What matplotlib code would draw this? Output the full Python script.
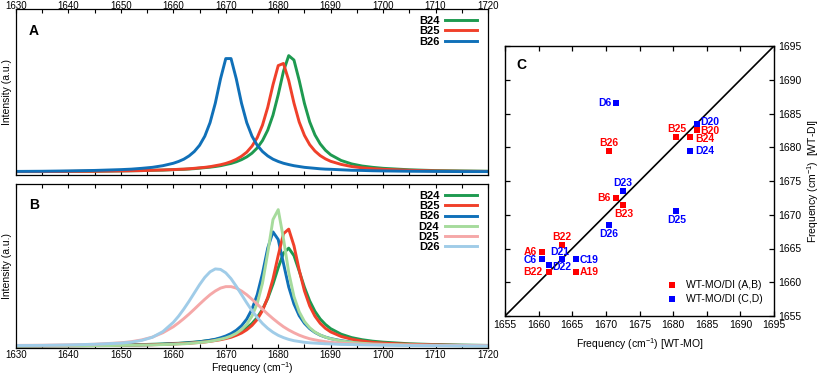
import matplotlib
matplotlib.use("Agg")
import matplotlib.pyplot as plt
from matplotlib.ticker import MultipleLocator

plt.rcParams['font.family'] = ['Liberation Sans', 'DejaVu Sans']
plt.rcParams['mathtext.default'] = 'regular'

# Spectra (intensity, a.u.)
freq = [1630, 1635, 1640, 1645, 1650, 1652, 1654, 1656, 1658,
        1660, 1661, 1662, 1663, 1664, 1665, 1666, 1667, 1668, 1669,
        1670, 1671, 1672, 1673, 1674, 1675, 1676, 1677, 1678, 1679,
        1680, 1681, 1682, 1683, 1684, 1685, 1686, 1687, 1688, 1689,
        1690, 1692, 1694, 1696, 1698, 1700, 1705, 1710, 1715, 1720]

# panel A
a_b24 = [0.003, 0.003, 0.004, 0.005, 0.007, 0.008, 0.009, 0.011, 0.012,
         0.015, 0.016, 0.017, 0.019, 0.021, 0.024, 0.027, 0.030, 0.034, 0.039,
         0.046, 0.053, 0.063, 0.076, 0.093, 0.116, 0.148, 0.193, 0.257, 0.349,
         0.475, 0.618, 0.714, 0.687, 0.562, 0.421, 0.308, 0.228, 0.173, 0.134,
         0.106, 0.071, 0.050, 0.037, 0.029, 0.023, 0.014, 0.009, 0.007, 0.005]
a_b25 = [0.003, 0.003, 0.004, 0.005, 0.007, 0.008, 0.009, 0.011, 0.013,
         0.015, 0.017, 0.018, 0.020, 0.023, 0.026, 0.029, 0.033, 0.039, 0.045,
         0.053, 0.064, 0.078, 0.097, 0.122, 0.159, 0.211, 0.288, 0.397, 0.535,
         0.653, 0.666, 0.562, 0.423, 0.307, 0.225, 0.168, 0.129, 0.101, 0.081,
         0.066, 0.047, 0.034, 0.026, 0.021, 0.017, 0.011, 0.007, 0.005, 0.004]
a_b26 = [0.004, 0.005, 0.007, 0.010, 0.015, 0.018, 0.023, 0.029, 0.039,
         0.054, 0.065, 0.079, 0.099, 0.126, 0.164, 0.220, 0.303, 0.422, 0.572,
         0.696, 0.696, 0.572, 0.422, 0.303, 0.220, 0.164, 0.126, 0.099, 0.079,
         0.065, 0.054, 0.046, 0.039, 0.034, 0.029, 0.026, 0.023, 0.020, 0.018,
         0.017, 0.014, 0.011, 0.010, 0.008, 0.007, 0.005, 0.004, 0.003, 0.003]

# panel B
b_b24 = [0.003, 0.004, 0.005, 0.006, 0.008, 0.010, 0.011, 0.013, 0.015,
         0.018, 0.019, 0.021, 0.024, 0.026, 0.029, 0.033, 0.037, 0.042, 0.048,
         0.056, 0.066, 0.078, 0.093, 0.114, 0.141, 0.178, 0.228, 0.295, 0.383,
         0.485, 0.574, 0.605, 0.559, 0.464, 0.364, 0.280, 0.216, 0.169, 0.135,
         0.109, 0.075, 0.054, 0.041, 0.032, 0.026, 0.016, 0.011, 0.008, 0.006]
b_b25 = [0.003, 0.003, 0.004, 0.005, 0.007, 0.008, 0.009, 0.010, 0.012,
         0.015, 0.016, 0.018, 0.019, 0.022, 0.024, 0.027, 0.031, 0.036, 0.041,
         0.048, 0.056, 0.068, 0.082, 0.102, 0.129, 0.166, 0.221, 0.301, 0.415,
         0.560, 0.694, 0.722, 0.620, 0.470, 0.342, 0.249, 0.186, 0.142, 0.111,
         0.089, 0.061, 0.044, 0.033, 0.025, 0.020, 0.013, 0.009, 0.006, 0.005]
b_b26 = [0.002, 0.003, 0.004, 0.005, 0.007, 0.008, 0.009, 0.011, 0.013,
         0.016, 0.018, 0.020, 0.022, 0.025, 0.028, 0.033, 0.038, 0.044, 0.053,
         0.064, 0.079, 0.099, 0.127, 0.168, 0.229, 0.319, 0.449, 0.605, 0.705,
         0.658, 0.511, 0.366, 0.261, 0.189, 0.142, 0.109, 0.086, 0.069, 0.057,
         0.048, 0.035, 0.026, 0.020, 0.016, 0.013, 0.009, 0.006, 0.005, 0.004]
b_d24 = [0.002, 0.003, 0.003, 0.004, 0.006, 0.007, 0.008, 0.009, 0.011,
         0.013, 0.015, 0.016, 0.018, 0.021, 0.024, 0.027, 0.031, 0.037, 0.044,
         0.052, 0.064, 0.080, 0.103, 0.136, 0.186, 0.264, 0.389, 0.576, 0.781,
         0.842, 0.663, 0.456, 0.307, 0.213, 0.153, 0.115, 0.088, 0.070, 0.057,
         0.047, 0.033, 0.025, 0.019, 0.015, 0.013, 0.008, 0.006, 0.004, 0.003]
b_d25 = [0.006, 0.007, 0.009, 0.013, 0.022, 0.029, 0.040, 0.057, 0.084,
         0.121, 0.145, 0.171, 0.199, 0.229, 0.260, 0.290, 0.318, 0.341, 0.359,
         0.368, 0.368, 0.359, 0.341, 0.318, 0.290, 0.260, 0.229, 0.199, 0.171,
         0.145, 0.121, 0.101, 0.084, 0.069, 0.057, 0.047, 0.040, 0.034, 0.029,
         0.025, 0.019, 0.016, 0.013, 0.012, 0.010, 0.008, 0.006, 0.005, 0.004]
b_d26 = [0.005, 0.006, 0.009, 0.013, 0.020, 0.026, 0.037, 0.056, 0.091,
         0.148, 0.186, 0.230, 0.278, 0.329, 0.380, 0.425, 0.459, 0.477, 0.474,
         0.453, 0.417, 0.370, 0.319, 0.268, 0.220, 0.178, 0.141, 0.111, 0.087,
         0.068, 0.054, 0.043, 0.035, 0.030, 0.025, 0.022, 0.020, 0.018, 0.016,
         0.015, 0.012, 0.011, 0.009, 0.008, 0.007, 0.005, 0.004, 0.003, 0.003]

# panel C: WT-MO vs WT-DI frequencies
labels_ab = ['B26', 'B25', 'B20', 'B24', 'B6', 'B23', 'B22', 'A6', 'B22', 'A19']
mo_ab = [1670.5, 1680.5, 1683.5, 1682.5, 1671.5, 1672.5, 1663.5, 1660.5, 1661.5, 1665.5]
di_ab = [1679.5, 1681.5, 1682.5, 1681.5, 1672.5, 1671.5, 1665.5, 1664.5, 1661.5, 1661.5]
labels_cd = ['D6', 'D20', 'D24', 'D23', 'D26', 'D25', 'D21', 'C6', 'D22', 'C19']
mo_cd = [1671.5, 1683.5, 1682.5, 1672.5, 1670.5, 1680.5, 1663.5, 1660.5, 1661.5, 1665.5]
di_cd = [1686.5, 1683.5, 1679.5, 1673.5, 1668.5, 1670.5, 1663.5, 1663.5, 1662.5, 1663.5]

# label placement (pixel offsets, alignment)
off_ab = [(0, 8, 'center'), (0, 8, 'center'), (4, -1, 'left'), (5, -2, 'left'),
          (-5, 0, 'right'), (1, -9, 'center'), (0, 8, 'center'), (-5, 0, 'right'),
          (-6, 0, 'right'), (4, 0, 'left')]
off_cd = [(-4, 0, 'right'), (4, 2, 'left'), (5, 0, 'left'), (0, 8, 'center'),
          (0, -9, 'center'), (0, -9, 'center'), (-2, 7, 'center'), (-5, -1, 'right'),
          (4, -2, 'left'), (4, -1, 'left')]

c_green = '#1e9a50'
c_red = '#f0402a'
c_blue = '#1070b8'
c_lgreen = '#a6db9c'
c_pink = '#f5a8a8'
c_lblue = '#a0cce8'

fig = plt.figure(figsize=(8.22, 3.75), dpi=100)
W, H = 822, 375


def box(x0, y0, x1, y1):
    return [x0 / W, 1 - y1 / H, (x1 - x0) / W, (y1 - y0) / H]


axA = fig.add_axes(box(16, 9, 488, 175))
axB = fig.add_axes(box(16, 184, 488, 348))
axC = fig.add_axes(box(505, 46, 774, 316))

lw = 2.1
axA.plot(freq, a_b24, color=c_green, lw=lw, label='B24')
axA.plot(freq, a_b25, color=c_red, lw=lw, label='B25')
axA.plot(freq, a_b26, color=c_blue, lw=lw, label='B26')

axB.plot(freq, b_b24, color=c_green, lw=lw, label='B24')
axB.plot(freq, b_b26, color=c_blue, lw=lw, label='B26')
axB.plot(freq, b_b25, color=c_red, lw=lw, label='B25')
axB.plot(freq, b_d24, color=c_lgreen, lw=lw, label='D24')
axB.plot(freq, b_d25, color=c_pink, lw=lw, label='D25')
axB.plot(freq, b_d26, color=c_lblue, lw=lw, label='D26')

for ax, letter, ylo in [(axA, 'A', -0.018), (axB, 'B', -0.01)]:
    ax.set_xlim(1630, 1720)
    ax.set_ylim(ylo, 1.0)
    ax.set_yticks([])
    ax.xaxis.set_major_locator(MultipleLocator(10))
    ax.xaxis.set_minor_locator(MultipleLocator(5))
    ax.tick_params(axis='x', which='both', direction='in', top=True, bottom=True,
                   length=3, width=0.8, labelsize=7, pad=1.5)
    ax.set_ylabel('Intensity (a.u.)', fontsize=7.5)
    ax.yaxis.set_label_coords(-0.0095, 0.5)
    ax.text(0.038, 0.87, letter, transform=ax.transAxes, fontsize=10,
            fontweight='bold', ha='center', va='center')
    for s in ax.spines.values():
        s.set_linewidth(0.9)
    handles, labs = ax.get_legend_handles_labels()
    order = sorted(range(len(labs)), key=lambda i: labs[i])
    leg = ax.legend([handles[i] for i in order], [labs[i] for i in order],
                    loc='upper right', bbox_to_anchor=(0.977, 0.957),
                    frameon=False, markerfirst=False, fontsize=8,
                    handlelength=2.9, handletextpad=0.5, labelspacing=0.02,
                    borderpad=0, borderaxespad=0)
    for t in leg.get_texts():
        t.set_fontweight('bold')

axA.tick_params(axis='x', which='both', labeltop=True, labelbottom=False, pad=-1.6)
axB.set_xlabel('Frequency (cm$^{-1}$)', fontsize=7.5, labelpad=0)

# panel C
lo, hi = 1655, 1695
axC.set_xlim(lo, hi)
axC.set_ylim(lo, hi)
axC.axline((lo, lo), slope=1, color='black', lw=1.2, zorder=1)
axC.scatter(mo_ab, di_ab, marker='s', s=16, color='#ff0000', zorder=3,
            label='WT-MO/DI (A,B)', linewidths=0)
axC.scatter(mo_cd, di_cd, marker='s', s=16, color='#0000ff', zorder=3,
            label='WT-MO/DI (C,D)', linewidths=0)
for lab, x, y, (dx, dy, ha) in zip(labels_ab, mo_ab, di_ab, off_ab):
    axC.annotate(lab, (x, y), xytext=(dx, dy), textcoords='offset pixels',
                 ha=ha, va='center', color='#ff0000', fontsize=7.5,
                 fontweight='bold')
for lab, x, y, (dx, dy, ha) in zip(labels_cd, mo_cd, di_cd, off_cd):
    axC.annotate(lab, (x, y), xytext=(dx, dy), textcoords='offset pixels',
                 ha=ha, va='center', color='#0000ff', fontsize=7.5,
                 fontweight='bold')
axC.xaxis.set_major_locator(MultipleLocator(5))
axC.yaxis.set_major_locator(MultipleLocator(5))
axC.tick_params(which='both', direction='in', top=True, bottom=True, left=True,
                right=True, labelleft=False, labelright=True, length=3.5,
                width=0.9, labelsize=7.5, pad=3)
for s in axC.spines.values():
    s.set_linewidth(1.0)
axC.set_xlabel('Frequency (cm$^{-1}$) [WT-MO]', fontsize=7.5, labelpad=4)
axC.yaxis.set_label_position('right')
axC.set_ylabel('Frequency (cm$^{-1}$)  [WT-DI]', fontsize=7.5, labelpad=3)
axC.text(0.06, 0.93, 'C', transform=axC.transAxes, fontsize=10,
         fontweight='bold', ha='center', va='center')
axC.legend(loc='lower right', bbox_to_anchor=(0.96, 0.045), frameon=False,
           fontsize=7.5, handletextpad=0.8, labelspacing=0.35, borderpad=0,
           borderaxespad=0, scatterpoints=1, handlelength=1.2)

fig.savefig('out.png', dpi=100)
